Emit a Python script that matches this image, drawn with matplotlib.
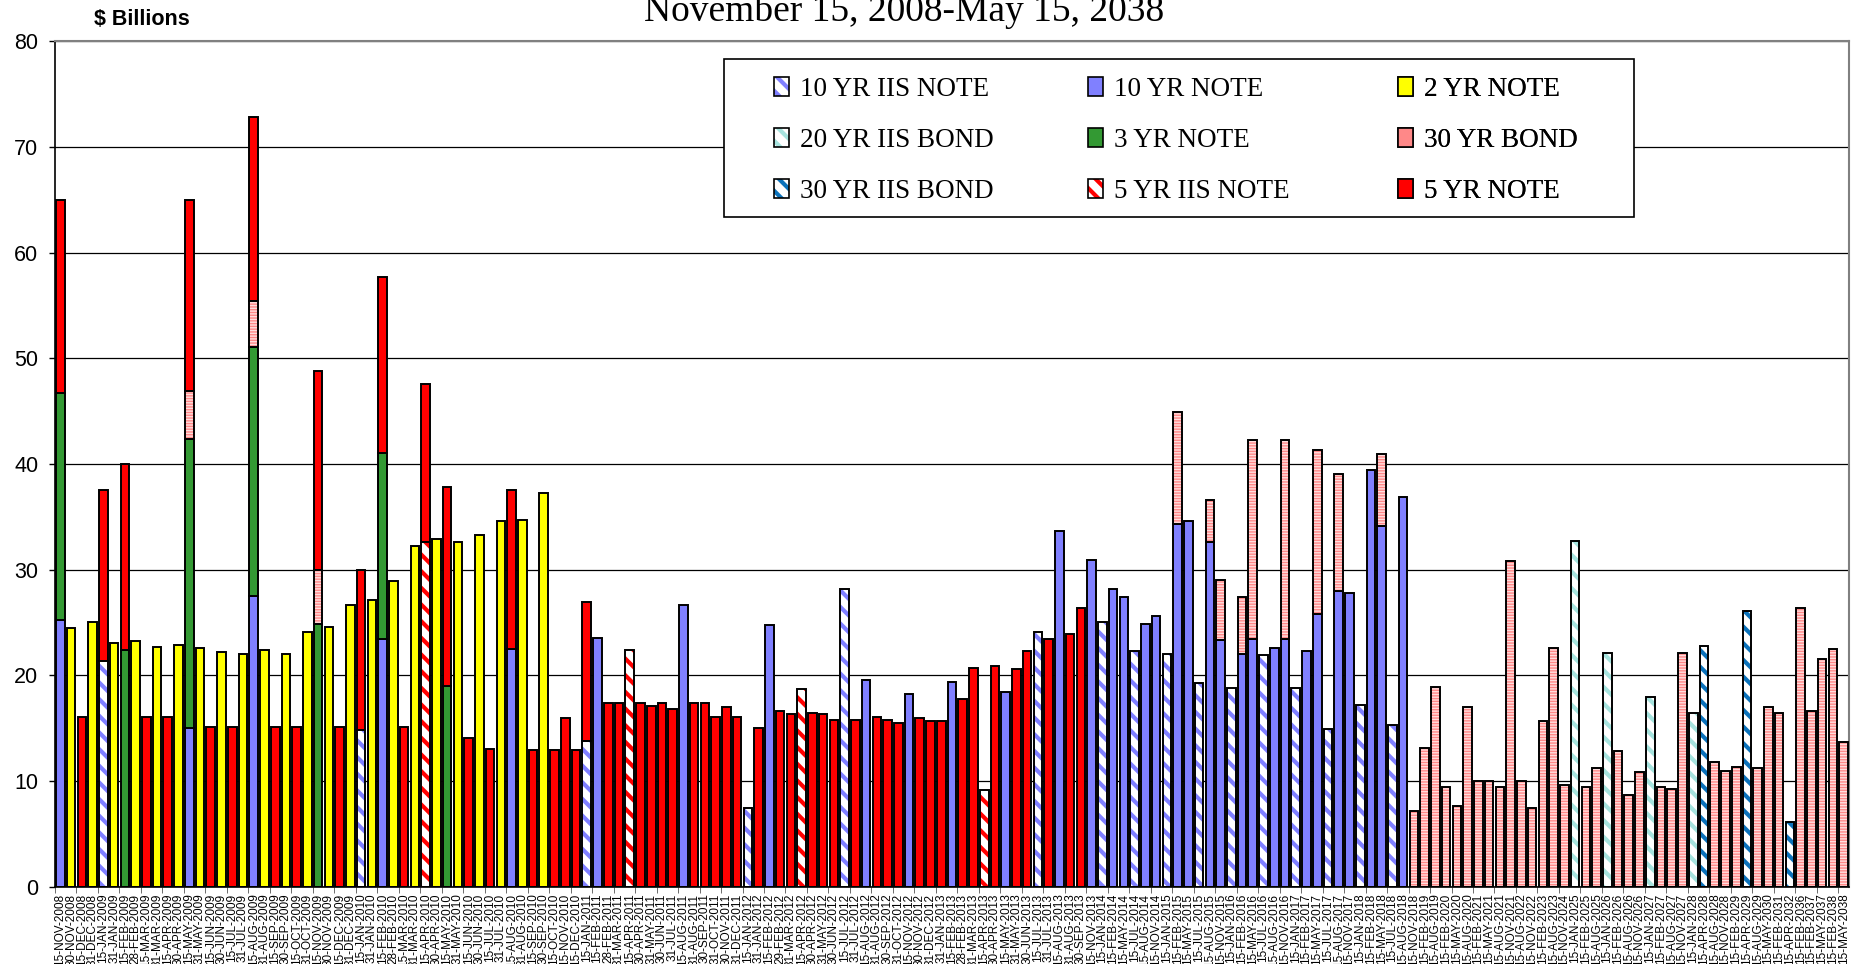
import matplotlib
matplotlib.use("Agg")
import matplotlib.pyplot as plt
import numpy as np
import pandas as pd
from matplotlib.patches import Patch, Rectangle

# maturity dates shown on the category axis
dates = [
    "15-NOV-2008", "30-NOV-2008", "15-DEC-2008", "31-DEC-2008", "15-JAN-2009", "31-JAN-2009",
    "15-FEB-2009", "28-FEB-2009", "15-MAR-2009", "31-MAR-2009", "15-APR-2009", "30-APR-2009",
    "15-MAY-2009", "31-MAY-2009", "15-JUN-2009", "30-JUN-2009", "15-JUL-2009", "31-JUL-2009",
    "15-AUG-2009", "31-AUG-2009", "15-SEP-2009", "30-SEP-2009", "15-OCT-2009", "31-OCT-2009",
    "15-NOV-2009", "30-NOV-2009", "15-DEC-2009", "31-DEC-2009", "15-JAN-2010", "31-JAN-2010",
    "15-FEB-2010", "28-FEB-2010", "15-MAR-2010", "31-MAR-2010", "15-APR-2010", "30-APR-2010",
    "15-MAY-2010", "31-MAY-2010", "15-JUN-2010", "30-JUN-2010", "15-JUL-2010", "31-JUL-2010",
    "15-AUG-2010", "31-AUG-2010", "15-SEP-2010", "30-SEP-2010", "15-OCT-2010", "15-NOV-2010",
    "15-DEC-2010", "15-JAN-2011", "15-FEB-2011", "28-FEB-2011", "31-MAR-2011", "15-APR-2011",
    "30-APR-2011", "31-MAY-2011", "30-JUN-2011", "31-JUL-2011", "15-AUG-2011", "31-AUG-2011",
    "30-SEP-2011", "31-OCT-2011", "30-NOV-2011", "31-DEC-2011", "15-JAN-2012", "31-JAN-2012",
    "15-FEB-2012", "29-FEB-2012", "31-MAR-2012", "15-APR-2012", "30-APR-2012", "31-MAY-2012",
    "30-JUN-2012", "15-JUL-2012", "31-JUL-2012", "15-AUG-2012", "31-AUG-2012", "30-SEP-2012",
    "31-OCT-2012", "15-NOV-2012", "30-NOV-2012", "31-DEC-2012", "31-JAN-2013", "15-FEB-2013",
    "28-FEB-2013", "31-MAR-2013", "15-APR-2013", "30-APR-2013", "15-MAY-2013", "31-MAY-2013",
    "30-JUN-2013", "15-JUL-2013", "31-JUL-2013", "15-AUG-2013", "31-AUG-2013", "30-SEP-2013",
    "15-NOV-2013", "15-JAN-2014", "15-FEB-2014", "15-MAY-2014", "15-JUL-2014", "15-AUG-2014",
    "15-NOV-2014", "15-JAN-2015", "15-FEB-2015", "15-MAY-2015", "15-JUL-2015", "15-AUG-2015",
    "15-NOV-2015", "15-JAN-2016", "15-FEB-2016", "15-MAY-2016", "15-JUL-2016", "15-AUG-2016",
    "15-NOV-2016", "15-JAN-2017", "15-FEB-2017", "15-MAY-2017", "15-JUL-2017", "15-AUG-2017",
    "15-NOV-2017", "15-JAN-2018", "15-FEB-2018", "15-MAY-2018", "15-JUL-2018", "15-AUG-2018",
    "15-NOV-2018", "15-FEB-2019", "15-AUG-2019", "15-FEB-2020", "15-MAY-2020", "15-AUG-2020",
    "15-FEB-2021", "15-MAY-2021", "15-AUG-2021", "15-NOV-2021", "15-AUG-2022", "15-NOV-2022",
    "15-FEB-2023", "15-AUG-2023", "15-NOV-2024", "15-JAN-2025", "15-FEB-2025", "15-AUG-2025",
    "15-JAN-2026", "15-FEB-2026", "15-AUG-2026", "15-NOV-2026", "15-JAN-2027", "15-FEB-2027",
    "15-AUG-2027", "15-NOV-2027", "15-JAN-2028", "15-APR-2028", "15-AUG-2028", "15-NOV-2028",
    "15-FEB-2029", "15-APR-2029", "15-AUG-2029", "15-MAY-2030", "15-FEB-2031", "15-APR-2032",
    "15-FEB-2036", "15-FEB-2037", "15-MAY-2037", "15-FEB-2038", "15-MAY-2038",
]

# $ billions maturing, per security type (only dates where the type is present)
iis_note_10yr = {
    "15-JAN-2009": 21.4, "15-JAN-2010": 14.8, "15-JAN-2011": 13.8, "15-JAN-2012": 7.4,
    "15-JUL-2012": 28.2, "15-JUL-2013": 24.1, "15-JAN-2014": 25.0, "15-JUL-2014": 22.3,
    "15-JAN-2015": 22.0, "15-JUL-2015": 19.3, "15-JAN-2016": 18.8, "15-JUL-2016": 21.9,
    "15-JAN-2017": 18.8, "15-JUL-2017": 14.9, "15-JAN-2018": 17.2, "15-JUL-2018": 15.3,
}
note_10yr = {
    "15-NOV-2008": 25.2, "15-MAY-2009": 15.0, "15-AUG-2009": 27.5, "15-FEB-2010": 23.4,
    "15-AUG-2010": 22.5, "15-FEB-2011": 23.5, "15-AUG-2011": 26.7, "15-FEB-2012": 24.8,
    "15-AUG-2012": 19.6, "15-NOV-2012": 18.2, "15-FEB-2013": 19.4, "15-MAY-2013": 18.4,
    "15-AUG-2013": 33.7, "15-NOV-2013": 30.9, "15-FEB-2014": 28.2, "15-MAY-2014": 27.4,
    "15-AUG-2014": 24.9, "15-NOV-2014": 25.6, "15-FEB-2015": 34.3, "15-MAY-2015": 34.6,
    "15-AUG-2015": 32.6, "15-NOV-2015": 23.3, "15-FEB-2016": 22.0, "15-MAY-2016": 23.4,
    "15-AUG-2016": 22.6, "15-NOV-2016": 23.4, "15-FEB-2017": 22.3, "15-MAY-2017": 25.8,
    "15-AUG-2017": 28.0, "15-NOV-2017": 27.8, "15-FEB-2018": 39.4, "15-MAY-2018": 34.1,
    "15-AUG-2018": 36.9,
}
iis_note_5yr = {"15-APR-2010": 32.6, "15-APR-2011": 22.4, "15-APR-2012": 18.7, "15-APR-2013": 9.1}
iis_bond_20yr = {"15-JAN-2025": 32.7, "15-JAN-2026": 22.1, "15-JAN-2027": 17.9, "15-JAN-2028": 16.4}
iis_bond_30yr = {"15-APR-2028": 22.8, "15-APR-2029": 26.1, "15-APR-2032": 6.1}
note_2yr = {
    "30-NOV-2008": 24.5, "31-DEC-2008": 25.0, "31-JAN-2009": 23.1, "28-FEB-2009": 23.2,
    "31-MAR-2009": 22.7, "30-APR-2009": 22.9, "31-MAY-2009": 22.6, "30-JUN-2009": 22.2,
    "31-JUL-2009": 22.0, "31-AUG-2009": 22.4, "30-SEP-2009": 22.0, "31-OCT-2009": 24.1,
    "30-NOV-2009": 24.6, "31-DEC-2009": 26.7, "31-JAN-2010": 27.1, "28-FEB-2010": 28.9,
    "31-MAR-2010": 32.2, "30-APR-2010": 32.9, "31-MAY-2010": 32.6, "30-JUN-2010": 33.3,
    "31-JUL-2010": 34.6, "31-AUG-2010": 34.7, "30-SEP-2010": 37.3,
}
note_3yr = {
    "15-NOV-2008": 21.5, "15-FEB-2009": 22.4, "15-MAY-2009": 27.4, "15-AUG-2009": 23.6,
    "15-NOV-2009": 24.9, "15-FEB-2010": 17.6, "15-MAY-2010": 19.0,
}
bond_30yr = {
    "15-MAY-2009": 4.5, "15-AUG-2009": 4.3, "15-NOV-2009": 5.1, "15-FEB-2015": 10.6,
    "15-AUG-2015": 4.0, "15-NOV-2015": 5.7, "15-FEB-2016": 5.4, "15-MAY-2016": 18.9,
    "15-NOV-2016": 18.9, "15-MAY-2017": 15.5, "15-AUG-2017": 11.1, "15-MAY-2018": 6.8,
    "15-NOV-2018": 7.2, "15-FEB-2019": 13.1, "15-AUG-2019": 18.9, "15-FEB-2020": 9.4,
    "15-MAY-2020": 7.6, "15-AUG-2020": 17.0, "15-FEB-2021": 10.0, "15-MAY-2021": 10.0,
    "15-AUG-2021": 9.4, "15-NOV-2021": 30.8, "15-AUG-2022": 10.0, "15-NOV-2022": 7.4,
    "15-FEB-2023": 15.7, "15-AUG-2023": 22.6, "15-NOV-2024": 9.6, "15-FEB-2025": 9.4,
    "15-AUG-2025": 11.2, "15-FEB-2026": 12.8, "15-AUG-2026": 8.7, "15-NOV-2026": 10.8,
    "15-FEB-2027": 9.4, "15-AUG-2027": 9.2, "15-NOV-2027": 22.1, "15-AUG-2028": 11.8,
    "15-NOV-2028": 10.9, "15-FEB-2029": 11.3, "15-AUG-2029": 11.2, "15-MAY-2030": 17.0,
    "15-FEB-2031": 16.4, "15-FEB-2036": 26.4, "15-FEB-2037": 16.6, "15-MAY-2037": 21.5,
    "15-FEB-2038": 22.5, "15-MAY-2038": 13.7,
}
note_5yr = {
    "15-NOV-2008": 18.3, "15-DEC-2008": 16.1, "15-JAN-2009": 16.1, "15-FEB-2009": 17.6,
    "15-MAR-2009": 16.1, "15-APR-2009": 16.1, "15-MAY-2009": 18.1, "15-JUN-2009": 15.1,
    "15-JUL-2009": 15.1, "15-AUG-2009": 17.4, "15-SEP-2009": 15.1, "15-OCT-2009": 15.1,
    "15-NOV-2009": 18.8, "15-DEC-2009": 15.1, "15-JAN-2010": 15.2, "15-FEB-2010": 16.7,
    "15-MAR-2010": 15.1, "15-APR-2010": 15.0, "15-MAY-2010": 18.8, "15-JUN-2010": 14.1,
    "15-JUL-2010": 13.0, "15-AUG-2010": 15.0, "15-SEP-2010": 12.9, "15-OCT-2010": 12.9,
    "15-NOV-2010": 16.0, "15-DEC-2010": 12.9, "15-JAN-2011": 13.1, "28-FEB-2011": 17.4,
    "31-MAR-2011": 17.4, "30-APR-2011": 17.4, "31-MAY-2011": 17.1, "30-JUN-2011": 17.4,
    "31-JUL-2011": 16.8, "31-AUG-2011": 17.4, "30-SEP-2011": 17.4, "31-OCT-2011": 16.1,
    "30-NOV-2011": 17.0, "31-DEC-2011": 16.1, "31-JAN-2012": 15.0, "29-FEB-2012": 16.6,
    "31-MAR-2012": 16.3, "30-APR-2012": 16.4, "31-MAY-2012": 16.3, "30-JUN-2012": 15.8,
    "31-JUL-2012": 15.8, "31-AUG-2012": 16.1, "30-SEP-2012": 15.8, "31-OCT-2012": 15.5,
    "30-NOV-2012": 16.0, "31-DEC-2012": 15.7, "31-JAN-2013": 15.7, "28-FEB-2013": 17.8,
    "31-MAR-2013": 20.7, "30-APR-2013": 20.9, "31-MAY-2013": 20.6, "30-JUN-2013": 22.3,
    "31-JUL-2013": 23.4, "31-AUG-2013": 23.9, "30-SEP-2013": 26.4,
}

# stacking order bottom -> top: (label, data, face colour, hatch, hatch colour)
series = [
    ("10 YR IIS NOTE", iis_note_10yr, "white", "\\\\", "#7f7fff"),
    ("10 YR NOTE", note_10yr, "#8080ff", None, None),
    ("5 YR IIS NOTE", iis_note_5yr, "white", "\\\\", "#ff0000"),
    ("20 YR IIS BOND", iis_bond_20yr, "white", "\\\\", "#a6e3de"),
    ("30 YR IIS BOND", iis_bond_30yr, "white", "\\\\", "#0b72bb"),
    ("2 YR NOTE", note_2yr, "#ffff00", None, None),
    ("3 YR NOTE", note_3yr, "#339933", None, None),
    ("30 YR BOND", bond_30yr, "#ffdede", "------", "#ff8888"),
    ("5 YR NOTE", note_5yr, "#ff0000", None, None),
]
legend_rows = [
    ["10 YR IIS NOTE", "10 YR NOTE", "2 YR NOTE"],
    ["20 YR IIS BOND", "3 YR NOTE", "30 YR BOND"],
    ["30 YR IIS BOND", "5 YR IIS NOTE", "5 YR NOTE"],
]

plt.rcParams["font.family"] = ["Liberation Sans", "DejaVu Sans"]
plt.rcParams["hatch.linewidth"] = 3.0
W, H = 1856, 964
fig = plt.figure(figsize=(W / 100, H / 100), dpi=100)
ax = fig.add_axes([55 / W, 1 - 886.6 / H, (1849 - 55) / W, (886.6 - 41.4) / H])


def hatch_lw(artist, lw):
    try:
        artist.set_hatch_linewidth(lw)
    except AttributeError:
        pass


x = np.arange(len(dates))
bottom = np.zeros(len(dates))
width = 0.8
handles = {}
for label, data, face, hatch, hcol in series:
    h = pd.Series(data, dtype=float).reindex(dates).fillna(0).to_numpy()
    m = h > 0
    lw_h = 1.0 if hatch == "------" else 3.0
    if hatch:
        bars = ax.bar(x[m], h[m], width, bottom=bottom[m], color=face, edgecolor=hcol,
                      hatch=hatch, linewidth=0, zorder=2)
        for b in bars:
            hatch_lw(b, lw_h)
        ax.bar(x[m], h[m], width, bottom=bottom[m], fill=False, edgecolor="black",
               linewidth=1.4, zorder=3)
        p = Patch(facecolor=face, edgecolor=hcol, hatch=hatch, linewidth=0)
        hatch_lw(p, lw_h * 0.8)
        handles[label] = (p, Patch(fill=False, edgecolor="black", linewidth=1.2))
    else:
        ax.bar(x[m], h[m], width, bottom=bottom[m], color=face, edgecolor="black",
               linewidth=1.4, zorder=2)
        handles[label] = Patch(facecolor=face, edgecolor="black", linewidth=1.2)
    bottom += h

ax.set_xlim(-0.5, len(dates) - 0.5)
ax.set_ylim(0, 80)
ax.set_yticks(np.arange(0, 81, 10))
ax.tick_params(axis="y", labelsize=15.5, length=4, width=1, pad=8)
ax.set_xticks(x)
ax.set_xticklabels(dates, rotation=90, fontsize=8.5)
ax.tick_params(axis="x", length=0, pad=5)
ax.set_xticks(np.arange(-0.5, len(dates), 2), minor=True)
ax.tick_params(axis="x", which="minor", length=4, color="#555555")
ax.set_axisbelow(True)
ax.yaxis.grid(True, color="black", linewidth=0.9)
for side in ["top", "right"]:
    ax.spines[side].set_color("#808080")
    ax.spines[side].set_linewidth(1.5)
for side in ["left", "bottom"]:
    ax.spines[side].set_linewidth(1.2)

fig.text(94 / W, 1 - 25 / H, "$ Billions", fontsize=15.5, fontweight="bold")
fig.text(904 / W, 1 - 21 / H, "November 15, 2008-May 15, 2038", fontsize=27,
         family="Liberation Serif", ha="center", va="baseline")

# legend box with three column legends
ax.add_patch(Rectangle((724 / W, 1 - 217 / H), 910 / W, 158 / H, transform=fig.transFigure,
                       facecolor="white", edgecolor="black", linewidth=1.2, zorder=4,
                       clip_on=False))
col_x = [774, 1088, 1398]
for c, cx in enumerate(col_x):
    labels = [row[c] for row in legend_rows]
    leg = ax.legend([handles[l] for l in labels], labels, loc="upper left",
                    bbox_to_anchor=(cx / W, 1 - 77 / H), bbox_transform=fig.transFigure,
                    frameon=False, borderpad=0, borderaxespad=0, labelspacing=0.96,
                    handlelength=0.55, handleheight=0.65, handletextpad=0.4,
                    prop={"family": "Liberation Serif", "size": 19.5})
    leg.set_zorder(5)
    ax.add_artist(leg)

fig.savefig("out.png", dpi=100)
